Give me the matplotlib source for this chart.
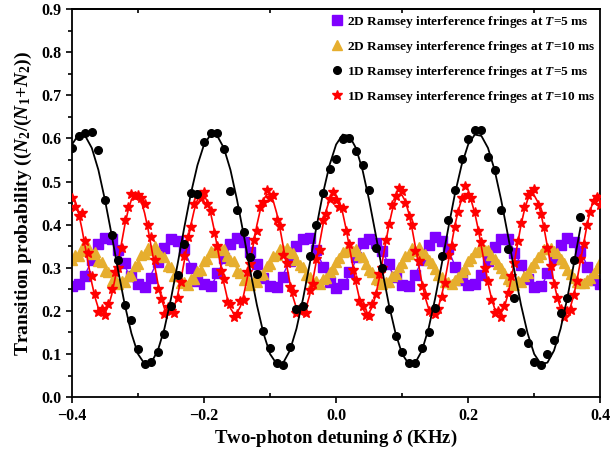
import numpy as np
import matplotlib
matplotlib.use("Agg")
import matplotlib.pyplot as plt
from matplotlib.ticker import MultipleLocator, FixedLocator

plt.rcParams['font.family'] = ['Liberation Serif', 'DejaVu Serif']
plt.rcParams['font.weight'] = 'bold'
plt.rcParams['mathtext.fontset'] = 'custom'
plt.rcParams['mathtext.rm'] = 'Liberation Serif:bold'
plt.rcParams['mathtext.it'] = 'Liberation Serif:italic:bold'
plt.rcParams['mathtext.bf'] = 'Liberation Serif:bold'

# --- data ---
# 1D, T=5 ms: points every 0.01 kHz from -0.40 to 0.37
x_1d5 = np.linspace(-0.40, 0.37, 78)
y_1d5 = [0.577, 0.605, 0.612, 0.614, 0.573, 0.457, 0.376, 0.319, 0.213, 0.179,
         0.112, 0.077, 0.082, 0.105, 0.147, 0.212, 0.284, 0.356, 0.474, 0.472,
         0.592, 0.612, 0.612, 0.575, 0.478, 0.435, 0.383, 0.325, 0.286, 0.154,
         0.115, 0.080, 0.074, 0.117, 0.204, 0.212, 0.327, 0.400, 0.473, 0.530,
         0.552, 0.598, 0.600, 0.571, 0.538, 0.480, 0.346, 0.300, 0.205, 0.142,
         0.105, 0.080, 0.080, 0.114, 0.150, 0.207, 0.327, 0.412, 0.480, 0.552,
         0.598, 0.620, 0.620, 0.558, 0.527, 0.435, 0.344, 0.230, 0.150, 0.125,
         0.082, 0.075, 0.100, 0.133, 0.195, 0.230, 0.319, 0.417]
fit_1d5 = [0.586, 0.609, 0.606, 0.578, 0.527, 0.457, 0.377, 0.293, 0.214, 0.148,
           0.100, 0.077, 0.080, 0.108, 0.159, 0.229, 0.309, 0.393, 0.472, 0.538,
           0.586, 0.609, 0.606, 0.578, 0.527, 0.457, 0.377, 0.293, 0.214, 0.148,
           0.100, 0.077, 0.080, 0.108, 0.159, 0.229, 0.309, 0.393, 0.472, 0.538,
           0.586, 0.609, 0.606, 0.578, 0.527, 0.457, 0.377, 0.293, 0.214, 0.148,
           0.100, 0.077, 0.080, 0.108, 0.159, 0.229, 0.309, 0.393, 0.472, 0.538,
           0.586, 0.609, 0.606, 0.578, 0.527, 0.457, 0.377, 0.293, 0.214, 0.148,
           0.100, 0.077, 0.080, 0.108, 0.159, 0.229, 0.309, 0.393]

# 1D, T=10 ms: points every 0.005 kHz from -0.40 to 0.40
x_fine = np.linspace(-0.40, 0.40, 161)
y_1d10 = [0.462, 0.440, 0.420, 0.428, 0.362, 0.335, 0.280, 0.240, 0.198, 0.205,
          0.190, 0.215, 0.250, 0.290, 0.300, 0.345, 0.412, 0.440, 0.472, 0.466,
          0.470, 0.462, 0.448, 0.400, 0.372, 0.318, 0.250, 0.228, 0.192, 0.210,
          0.200, 0.195, 0.230, 0.268, 0.328, 0.372, 0.395, 0.448, 0.470, 0.462,
          0.475, 0.448, 0.432, 0.380, 0.350, 0.292, 0.275, 0.220, 0.215, 0.186,
          0.192, 0.222, 0.225, 0.290, 0.308, 0.365, 0.385, 0.440, 0.452, 0.480,
          0.462, 0.468, 0.410, 0.398, 0.330, 0.310, 0.255, 0.245, 0.195, 0.200,
          0.210, 0.196, 0.248, 0.262, 0.320, 0.342, 0.410, 0.425, 0.460, 0.475,
          0.458, 0.440, 0.438, 0.385, 0.355, 0.296, 0.272, 0.222, 0.212, 0.190,
          0.188, 0.215, 0.240, 0.285, 0.300, 0.365, 0.402, 0.445, 0.466, 0.485,
          0.478, 0.450, 0.420, 0.400, 0.340, 0.315, 0.258, 0.236, 0.200, 0.198,
          0.192, 0.205, 0.232, 0.265, 0.330, 0.350, 0.395, 0.430, 0.462, 0.490,
          0.470, 0.462, 0.430, 0.385, 0.360, 0.300, 0.270, 0.225, 0.195, 0.200,
          0.185, 0.212, 0.242, 0.280, 0.310, 0.362, 0.405, 0.440, 0.470, 0.476,
          0.482, 0.445, 0.425, 0.395, 0.345, 0.305, 0.262, 0.230, 0.205, 0.186,
          0.200, 0.202, 0.238, 0.270, 0.320, 0.355, 0.400, 0.430, 0.455, 0.465,
          0.445]
fit_1d10 = [0.468, 0.454, 0.427, 0.391, 0.349, 0.306, 0.265, 0.231, 0.206, 0.194,
            0.196, 0.210, 0.237, 0.273, 0.315, 0.358, 0.399, 0.433, 0.458, 0.470] * 8 + [0.468]

# 2D, T=5 ms: points every 0.01 kHz
x_2d5 = np.linspace(-0.40, 0.40, 81)
y_2d5 = [0.258, 0.262, 0.281, 0.318, 0.356, 0.369, 0.366, 0.342, 0.312, 0.281,
         0.262, 0.256, 0.276, 0.313, 0.347, 0.366, 0.362, 0.343, 0.300, 0.270,
         0.262, 0.258, 0.288, 0.322, 0.355, 0.370, 0.360, 0.336, 0.309, 0.276,
         0.258, 0.255, 0.279, 0.315, 0.350, 0.366, 0.368, 0.341, 0.302, 0.268,
         0.254, 0.263, 0.290, 0.324, 0.357, 0.366, 0.358, 0.338, 0.308, 0.279,
         0.260, 0.257, 0.284, 0.318, 0.352, 0.371, 0.362, 0.344, 0.301, 0.271,
         0.259, 0.262, 0.283, 0.316, 0.349, 0.367, 0.366, 0.335, 0.306, 0.275,
         0.256, 0.258, 0.287, 0.321, 0.354, 0.369, 0.361, 0.340, 0.303, 0.272,
         0.262]
fit_2d5 = [0.256, 0.255, 0.260, 0.270, 0.285, 0.301, 0.319, 0.336, 0.351, 0.362,
           0.368, 0.369, 0.364, 0.354, 0.339, 0.323, 0.305, 0.288, 0.273, 0.262] * 8 + [0.256]

# 2D, T=10 ms: points every 0.005 kHz
y_2d10 = [0.318, 0.330, 0.327, 0.345, 0.340, 0.348, 0.333, 0.336, 0.315, 0.314,
          0.292, 0.290, 0.270, 0.274, 0.262, 0.270, 0.266, 0.282, 0.283, 0.305,
          0.308, 0.330, 0.331, 0.347, 0.341, 0.350, 0.336, 0.328, 0.326, 0.304,
          0.302, 0.281, 0.280, 0.265, 0.268, 0.261, 0.275, 0.274, 0.292, 0.296,
          0.316, 0.320, 0.338, 0.337, 0.349, 0.341, 0.344, 0.328, 0.318, 0.315,
          0.293, 0.289, 0.272, 0.273, 0.260, 0.269, 0.267, 0.283, 0.285, 0.304,
          0.309, 0.328, 0.330, 0.344, 0.342, 0.347, 0.337, 0.335, 0.319, 0.306,
          0.301, 0.283, 0.279, 0.266, 0.269, 0.263, 0.273, 0.276, 0.291, 0.297,
          0.314, 0.322, 0.337, 0.339, 0.348, 0.340, 0.343, 0.329, 0.325, 0.308,
          0.295, 0.290, 0.273, 0.272, 0.262, 0.268, 0.268, 0.280, 0.286, 0.303,
          0.310, 0.327, 0.332, 0.346, 0.339, 0.349, 0.335, 0.333, 0.317, 0.312,
          0.297, 0.284, 0.278, 0.267, 0.266, 0.262, 0.272, 0.279, 0.290, 0.298,
          0.315, 0.323, 0.336, 0.340, 0.350, 0.342, 0.341, 0.330, 0.321, 0.309,
          0.299, 0.287, 0.274, 0.270, 0.261, 0.270, 0.266, 0.281, 0.287, 0.302,
          0.311, 0.326, 0.333, 0.343, 0.344, 0.346, 0.338, 0.334, 0.320, 0.311,
          0.296, 0.285, 0.277, 0.268, 0.264, 0.265, 0.271, 0.277, 0.289, 0.299,
          0.313]
fit_2d10 = [0.312, 0.324, 0.334, 0.341, 0.345, 0.344, 0.340, 0.332, 0.322, 0.310,
            0.298, 0.286, 0.276, 0.269, 0.265, 0.266, 0.270, 0.278, 0.288, 0.300] * 8 + [0.312]

labels = [r'2D Ramsey interference fringes at $T$=5 ms',
          r'2D Ramsey interference fringes at $T$=10 ms',
          r'1D Ramsey interference fringes at $T$=5 ms',
          r'1D Ramsey interference fringes at $T$=10 ms']

c_purple = '#8000FF'
c_gold = '#E6AE2E'
c_black = '#000000'
c_red = '#FF0000'

fig = plt.figure(figsize=(6.1, 4.57), dpi=100)
ax = fig.add_axes([0.118, 0.131, 0.866, 0.849])

# fitted curves under the markers
ax.plot(x_fine, fit_2d5, color=c_purple, lw=1.0, zorder=1)
ax.plot(x_fine, fit_2d10, color=c_gold, lw=1.0, zorder=1)

h1, = ax.plot(x_2d5, y_2d5, 's', color=c_purple, ms=7.5, mec=c_purple, zorder=2, label=labels[0])
h2, = ax.plot(x_fine, y_2d10, '^', color=c_gold, ms=7.5, mec=c_gold, zorder=2, label=labels[1])

ax.plot(x_fine, fit_1d10, color=c_red, lw=1.2, zorder=3)
h4, = ax.plot(x_fine, y_1d10, '*', color=c_red, ms=7.5, mec=c_red, zorder=4, label=labels[3])

ax.plot(x_1d5, fit_1d5, color=c_black, lw=1.3, zorder=5)
h3, = ax.plot(x_1d5, y_1d5, 'o', color=c_black, ms=5.5, zorder=6, label=labels[2])

ax.set_xlim(-0.4, 0.4)
ax.set_ylim(0.0, 0.9)
ax.xaxis.set_major_locator(MultipleLocator(0.2))
ax.xaxis.set_minor_locator(MultipleLocator(0.1))
ax.yaxis.set_major_locator(MultipleLocator(0.1))
ax.yaxis.set_minor_locator(MultipleLocator(0.05))
ax.xaxis.set_major_formatter(matplotlib.ticker.FuncFormatter(
    lambda v, p: f"{v:.1f}".replace('-', '\u2212') if abs(v) > 1e-9 else "0.0"))
ax.yaxis.set_major_formatter(matplotlib.ticker.FormatStrFormatter('%.1f'))

ax.tick_params(axis='both', which='major', direction='out', length=4, width=1.2,
               labelsize=11.5)
ax.tick_params(axis='x', which='minor', direction='in', length=3, width=1.2)
ax.tick_params(axis='y', which='minor', direction='out', length=3, width=1.2)

top = ax.secondary_xaxis('top')
top.xaxis.set_major_locator(FixedLocator([-0.3, -0.1, 0.1, 0.3]))
top.tick_params(direction='in', length=3, width=1.2, labeltop=False)

for s in ax.spines.values():
    s.set_linewidth(1.3)
top.spines['top'].set_linewidth(1.3)

ax.set_xlabel(r'Two-photon detuning $\delta$ (KHz)', fontsize=13.5, fontweight='bold', labelpad=3)
ax.set_ylabel(r'Transition probability (($N_2$/($N_1$+$N_2$))', fontsize=14,
              fontweight='bold', labelpad=5)

ax.legend(handles=[h1, h2, h3, h4], loc='upper right', frameon=False,
          handlelength=0.9, handletextpad=0.35, labelspacing=0.68,
          borderaxespad=0.05, borderpad=0.3, prop={'weight': 'bold', 'size': 9.6})

fig.savefig('out.png', dpi=100)
